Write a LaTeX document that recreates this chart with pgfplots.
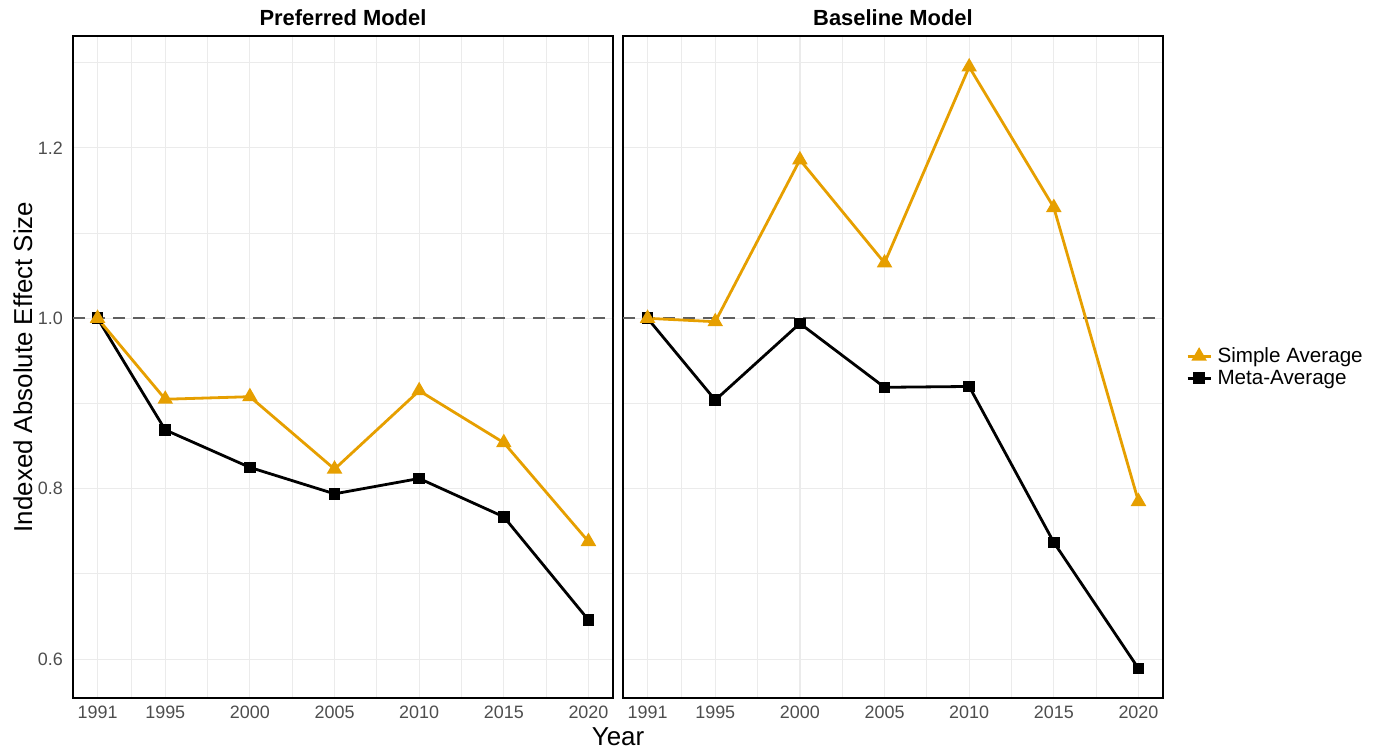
\documentclass[border=0pt]{standalone}
\usepackage{fontspec}
\setmainfont{Liberation Sans}
\usepackage{pgfplots}
\pgfplotsset{compat=1.18}

\definecolor{sorange}{HTML}{E69F00}
\definecolor{gridgray}{HTML}{EBEBEB}
\definecolor{ticktext}{HTML}{4D4D4D}
\definecolor{refgray}{HTML}{5F5F5F}

\pgfplotsset{
  panel/.style={
    scale only axis, width=540bp, height=662bp,
    anchor=south west,
    xmin=1989.55, xmax=2021.45, ymin=0.5544, ymax=1.3313,
    xtick={1991,1995,2000,2005,2010,2015,2020},
    minor xtick={1993,1997.5,2002.5,2007.5,2012.5,2017.5},
    ytick={0.6,0.8,1.0,1.2},
    minor ytick={0.7,0.9,1.1,1.3},
    grid=both,
    major grid style={gridgray, line width=1.2bp},
    minor grid style={gridgray, line width=0.9bp},
    major tick length=0pt, minor tick length=0pt,
    axis line style={black, line width=1.4bp},
    /pgf/number format/assume math mode=true,
    tick label style={font=\fontsize{18}{21}\selectfont, text=ticktext, inner sep=0pt},
    xticklabel style={anchor=north, yshift=-8bp, /pgf/number format/1000 sep={}},
    yticklabel style={anchor=east, xshift=-10bp,
      /pgf/number format/.cd, fixed, fixed zerofill, precision=1},
  },
  meta/.style={black, line width=2.8bp, mark=square*, mark size=4.4bp,
    mark options={solid}},
  simple/.style={sorange, line width=2.8bp, mark=triangle*, mark size=6.2bp,
    mark options={solid}},
  refline/.style={refgray, line width=2bp, dash pattern=on 12bp off 8bp,
    forget plot},
}

\begin{document}
\begin{tikzpicture}
\useasboundingbox (0,0) rectangle (1383bp,752bp);

% Preferred model
\begin{axis}[panel, at={(73bp,54bp)}]
  \addplot[refline] coordinates {(1989.55,1) (2021.45,1)};
  \addplot[meta] coordinates {
    (1991,1.000) (1995,0.869) (2000,0.825) (2005,0.794)
    (2010,0.812) (2015,0.767) (2020,0.646)};
  \addplot[simple] coordinates {
    (1991,1.000) (1995,0.905) (2000,0.908) (2005,0.823)
    (2010,0.915) (2015,0.854) (2020,0.738)};
\end{axis}

% Baseline model
\begin{axis}[panel, at={(623bp,54bp)}, yticklabels={},
  reverse legend,
  legend cell align=left,
  legend image code/.code={
    \draw[mark repeat=2, mark phase=2] plot coordinates {(0bp,0bp) (11.5bp,0bp) (23bp,0bp)};},
  legend style={at={(1.0426,0.5)}, anchor=west, draw=none, fill=none,
    font=\fontsize{20.7}{24}\selectfont, inner sep=0pt,
    nodes={inner sep=1.5bp}, row sep=3bp,
    /tikz/every odd column/.append style={column sep=4bp}}]
  \addplot[refline] coordinates {(1989.55,1) (2021.45,1)};
  \addplot[meta] coordinates {
    (1991,1.000) (1995,0.904) (2000,0.994) (2005,0.919)
    (2010,0.920) (2015,0.737) (2020,0.589)};
  \addlegendentry{Meta-Average}
  \addplot[simple] coordinates {
    (1991,1.000) (1995,0.996) (2000,1.186) (2005,1.065)
    (2010,1.295) (2015,1.130) (2020,0.785)};
  \addlegendentry{Simple Average}
\end{axis}

% panel titles and shared axis titles
\node[anchor=base, font=\fontsize{22}{26}\selectfont\bfseries] at (343bp,726bp) {Preferred Model};
\node[anchor=base, font=\fontsize{22}{26}\selectfont\bfseries] at (893bp,726bp) {Baseline Model};
\node[anchor=base, rotate=90, font=\fontsize{26}{30}\selectfont] at (32bp,385bp) {Indexed Absolute Effect Size};
\node[anchor=base, font=\fontsize{26}{30}\selectfont] at (618bp,7bp) {Year};
\end{tikzpicture}
\end{document}
